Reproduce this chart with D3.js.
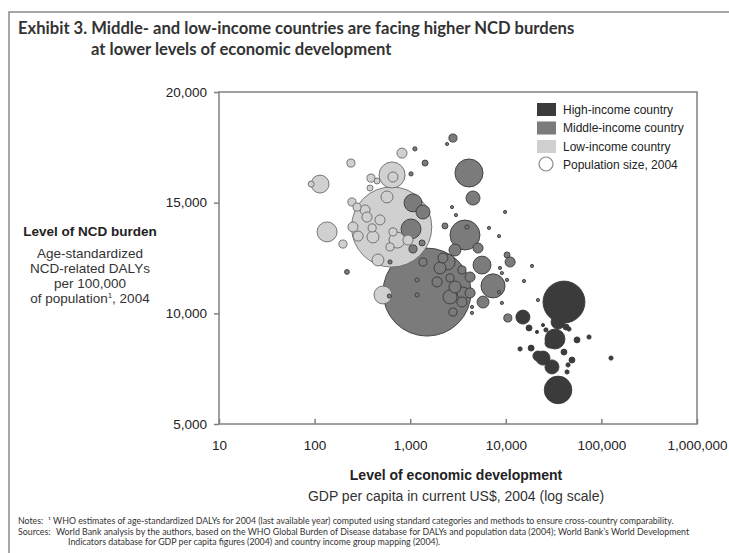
<!DOCTYPE html>
<html>
<head>
<meta charset="utf-8">
<script src="https://cdn.jsdelivr.net/npm/d3@7"></script>
<style>
  body { margin: 0; background: #fff; }
  svg { display: block; }
  .tick text { font-family: "Liberation Sans", Arial, sans-serif; font-size: 13.5px; fill: #222; }
</style>
</head>
<body>
<svg width="729" height="553"></svg>
<script>
// [GDP per capita US$, NCD DALYs per 100k, population (millions)]
const highIncome = [
  [40600, 10510, 295], [15100, 9830, 33], [17500, 9340, 6], [35200, 9610, 33],
  [24500, 9470, 1.5], [26300, 9250, 3], [21200, 9160, 1.5], [32700, 8840, 67],
  [29000, 8660, 17], [42700, 9380, 6], [45800, 9290, 3], [55600, 8800, 6],
  [74200, 8930, 3], [14100, 8390, 3], [18400, 8430, 6], [40600, 8250, 6],
  [21700, 8070, 17], [24500, 7980, 33], [30400, 7580, 33], [49200, 7890, 6],
  [44800, 7670, 3], [43700, 7350, 3], [126000, 7980, 3], [35200, 6540, 128]
];
const middleIncome = [
  [1500, 10960, 1300], [218, 11870, 4], [1120, 17430, 3], [1430, 16790, 6],
  [1020, 16300, 3], [1070, 14990, 54], [1360, 14580, 33], [1020, 13810, 67],
  [1070, 12910, 11], [1330, 13180, 6], [2800, 17920, 11], [2430, 17650, 1.5],
  [4120, 16340, 132], [4540, 15210, 33], [2740, 14800, 1.5], [3010, 14440, 1.5],
  [9820, 14580, 1.5], [6670, 13860, 1.5], [3740, 13540, 151], [8500, 13490, 1.5],
  [2310, 13950, 6], [3930, 13900, 3], [10300, 12640, 6], [11100, 12320, 17],
  [18800, 12140, 1.5], [5640, 12180, 54], [8690, 12050, 1.5], [9100, 11820, 1.5],
  [15500, 11460, 1.5], [7350, 11240, 97], [4230, 10920, 17], [5780, 10510, 24],
  [9100, 10470, 1.5], [4430, 10290, 1.5], [4430, 10020, 1.5], [2800, 10060, 11],
  [21700, 10600, 1.5], [10500, 9790, 11], [3570, 10920, 24], [2610, 10740, 33],
  [1910, 11420, 17], [2940, 11190, 24], [4230, 11640, 17], [3480, 11960, 11],
  [2610, 11600, 11], [2430, 12320, 43], [2200, 12500, 17], [1360, 12320, 11],
  [3480, 10510, 17], [10300, 11510, 1.5], [8500, 10960, 1.5], [1180, 11510, 3],
  [1180, 10830, 3], [615, 12320, 3], [605, 10780, 3], [2940, 12860, 24],
  [5120, 12950, 17], [2050, 12050, 24]
];
const lowIncome = [
  [92, 15840, 6], [114, 15840, 54], [135, 13680, 67], [198, 13130, 11],
  [240, 16790, 11], [820, 17240, 17], [646, 16250, 114], [660, 16160, 17],
  [389, 16110, 11], [450, 15980, 6], [380, 15660, 6], [572, 15260, 24],
  [246, 15030, 11], [278, 14800, 11], [337, 14670, 17], [252, 13900, 17],
  [285, 13490, 17], [408, 13450, 24], [483, 14220, 17], [728, 13310, 43],
  [460, 12410, 24], [519, 10830, 54], [640, 13900, 1080], [353, 14350, 17],
  [400, 13860, 11], [661, 13680, 11], [615, 13000, 11], [948, 13310, 17]
];
const xTicks = [10, 100, 1000, 10000, 100000, 1000000];
const yTicks = [5000, 10000, 15000, 20000];
const legendLabels = ['High-income country', 'Middle-income country', 'Low-income country', 'Population size, 2004'];
const groupColors = {high: '#3b3b3b', middle: '#7b7b7b', low: '#d0d0d0'};

const svg = d3.select('svg');
const plot = {left: 219, right: 697, top: 92, bottom: 424};
const sans = '"Liberation Sans", Arial, sans-serif';
const title = 'Lato, "Open Sans", sans-serif';

// outer frame
svg.append('rect')
  .attr('x', 9).attr('y', 12).attr('width', 760).attr('height', 600)
  .attr('fill', 'none').attr('stroke', '#8a8a8a').attr('stroke-width', 1.5);

svg.append('text').attr('x', 18).attr('y', 34)
  .style('font-family', title).style('font-size', '16.6px').style('font-weight', 'bold').attr('fill', '#333')
  .text('Exhibit 3. Middle- and low-income countries are facing higher NCD burdens');
svg.append('text').attr('x', 91).attr('y', 55)
  .style('font-family', title).style('font-size', '16.6px').style('font-weight', 'bold').attr('fill', '#333')
  .text('at lower levels of economic development');

const xScale = d3.scaleLog().domain([10, 1000000]).range([plot.left, plot.right]);
const yScale = d3.scaleLinear().domain([5000, 20000]).range([plot.bottom, plot.top]);
const rScale = d3.scaleSqrt().domain([0, 1300]).range([0, 44]);

const yAxis = svg.append('g')
  .attr('transform', `translate(${plot.left},0)`)
  .call(d3.axisLeft(yScale).tickValues(yTicks).tickFormat(d3.format(',')).tickSize(5).tickPadding(7));
yAxis.select('.domain').remove();
yAxis.selectAll('line').attr('stroke', '#808080').attr('stroke-width', 1.5);

const xAxis = svg.append('g')
  .attr('transform', `translate(0,${plot.bottom})`)
  .call(d3.axisBottom(xScale).tickValues(xTicks).tickFormat(d3.format(',')).tickSizeInner(-5).tickSizeOuter(0).tickPadding(16));
xAxis.select('.domain').remove();
xAxis.selectAll('line').attr('stroke', '#808080').attr('stroke-width', 1.5);

svg.append('rect')
  .attr('x', plot.left).attr('y', plot.top)
  .attr('width', plot.right - plot.left).attr('height', plot.bottom - plot.top)
  .attr('fill', 'none').attr('stroke', '#808080').attr('stroke-width', 1.5);

const points = [
  ...highIncome.map(d => ({gdp: d[0], ncd: d[1], pop: d[2], group: 'high'})),
  ...middleIncome.map(d => ({gdp: d[0], ncd: d[1], pop: d[2], group: 'middle'})),
  ...lowIncome.map(d => ({gdp: d[0], ncd: d[1], pop: d[2], group: 'low'}))
].sort((a, b) => b.pop - a.pop);

svg.append('g').selectAll('circle')
  .data(points)
  .join('circle')
  .attr('cx', d => xScale(d.gdp))
  .attr('cy', d => yScale(d.ncd))
  .attr('r', d => Math.max(1.6, rScale(d.pop)))
  .attr('fill', d => groupColors[d.group])
  .attr('stroke', d => d.group === 'low' ? '#6a6a6a' : '#3a3a3a')
  .attr('stroke-width', 0.9);

// legend
const legend = svg.append('g');
const legendKeys = ['high', 'middle', 'low'];
legendKeys.forEach((k, i) => {
  legend.append('rect')
    .attr('x', 537).attr('y', 103 + i * 18.5).attr('width', 19).attr('height', 13)
    .attr('fill', groupColors[k]);
});
legend.append('circle').attr('cx', 546).attr('cy', 164).attr('r', 7)
  .attr('fill', '#fff').attr('stroke', '#888').attr('stroke-width', 1.2);
legendLabels.forEach((t, i) => {
  legend.append('text').attr('x', 563).attr('y', 113.5 + i * 18.5)
    .style('font-family', sans).style('font-size', '12px').attr('fill', '#222').text(t);
});

// y axis titles
svg.append('text').attr('x', 90).attr('y', 236).attr('text-anchor', 'middle')
  .style('font-family', sans).style('font-size', '13.5px').style('font-weight', 'bold').attr('fill', '#222')
  .text('Level of NCD burden');
const yLines = ['Age-standardized', 'NCD-related DALYs', 'per 100,000'];
yLines.forEach((t, i) => {
  svg.append('text').attr('x', 90).attr('y', 258 + i * 15).attr('text-anchor', 'middle')
    .style('font-family', sans).style('font-size', '13.5px').attr('fill', '#333').text(t);
});
const popLine = svg.append('text').attr('x', 90).attr('y', 303).attr('text-anchor', 'middle')
  .style('font-family', sans).style('font-size', '13.5px').attr('fill', '#333');
popLine.append('tspan').text('of population');
popLine.append('tspan').attr('dy', -5).style('font-size', '8px').text('1');
popLine.append('tspan').attr('dy', 5).text(', 2004');

// x axis titles
svg.append('text').attr('x', 456).attr('y', 480).attr('text-anchor', 'middle')
  .style('font-family', sans).style('font-size', '14px').style('font-weight', 'bold').attr('fill', '#222')
  .text('Level of economic development');
svg.append('text').attr('x', 456).attr('y', 501).attr('text-anchor', 'middle')
  .style('font-family', sans).style('font-size', '14px').attr('fill', '#333')
  .text('GDP per capita in current US$, 2004 (log scale)');

// notes
const noteStyle = s => s.style('font-family', title).style('font-size', '8.8px').attr('fill', '#333');
svg.append('text').attr('x', 18).attr('y', 524).call(noteStyle).text('Notes:');
svg.append('text').attr('x', 48).attr('y', 524).call(noteStyle)
  .text('\u00B9 WHO estimates of age-standardized DALYs for 2004 (last available year) computed using standard categories and methods to ensure cross-country comparability.');
svg.append('text').attr('x', 18).attr('y', 534.5).call(noteStyle).text('Sources:');
svg.append('text').attr('x', 56).attr('y', 534.5).call(noteStyle)
  .text('World Bank analysis by the authors, based on the WHO Global Burden of Disease database for DALYs and population data (2004); World Bank\u2019s World Development');
svg.append('text').attr('x', 68).attr('y', 545).call(noteStyle)
  .text('Indicators database for GDP per capita figures (2004) and country income group mapping (2004).');
</script>
</body>
</html>
